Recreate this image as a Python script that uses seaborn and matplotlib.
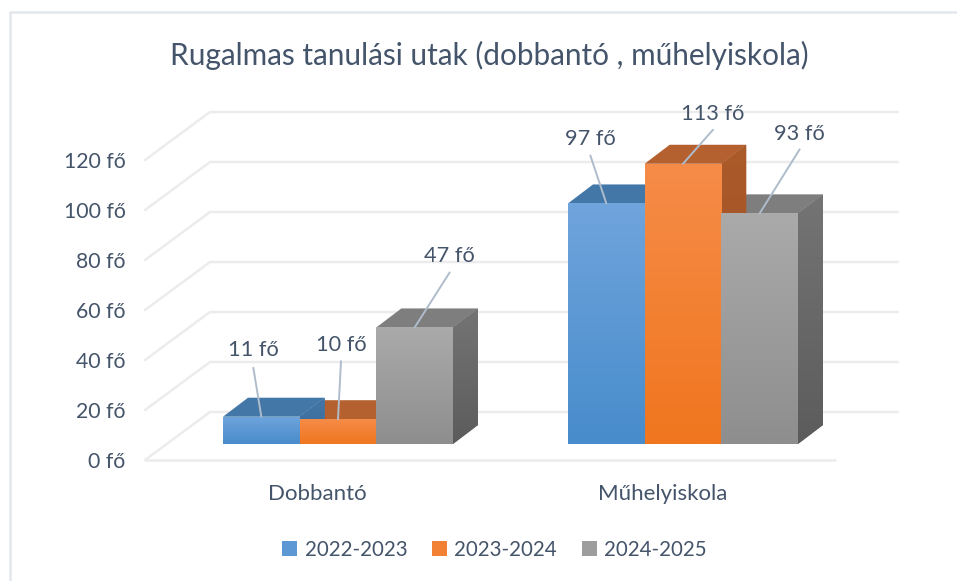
import numpy as np
import pandas as pd
import seaborn as sns
import matplotlib.pyplot as plt
from matplotlib.colors import to_rgb
from matplotlib.lines import Line2D
from matplotlib.patches import Polygon, Rectangle

# data
categories = ["Dobbantó", "Műhelyiskola"]
years = ["2022-2023", "2023-2024", "2024-2025"]
val_2022 = [11, 97]
val_2023 = [10, 113]
val_2024 = [47, 93]
y_ticks = [0, 20, 40, 60, 80, 100, 120]

df = pd.DataFrame({
    "kategoria": categories * 3,
    "tanev": [y for y in years for _ in categories],
    "fo": val_2022 + val_2023 + val_2024,
})

W, H = 957, 581
TEXT = "#44546A"
GRID = "#ececec"
LEADER = "#aebccb"
# front top/bottom, top face, side top/bottom
front_cols = [("#6fa4dc", "#488ccc"), ("#f68c48", "#f0761f"), ("#aaaaaa", "#8e8e8e")]
top_cols = ["#4377a8", "#b5602f", "#7e7e7e"]
side_cols = [("#4377a8", "#3a6894"), ("#ab5a2a", "#9c5024"), ("#747474", "#5c5c5c")]
legend_cols = ["#5b98d4", "#f38135", "#9d9d9d"]
# label offset from the bar top, pixels (x, y of the label centre)
label_off = [[(-8, 67), (-16, 64)], [(3, 74), (30, 50)], [(35, 71), (40, 79)]]
line_off = [[(-8, 49), (-16, 48)], [(3, 58), (30, 34)], [(35, 55), (40, 64)]]

sns.set_theme(style="white")
plt.rcParams["font.family"] = ["Lato", "DejaVu Sans"]

fig = plt.figure(figsize=(W / 100, H / 100), dpi=100)
# only the top and left edges of the chart frame are visible
fig.add_artist(Line2D([9.5 / W, 9.5 / W, 1], [0, 1 - 11.5 / H, 1 - 11.5 / H], transform=fig.transFigure,
                      color="#e3e7ec", lw=1.8))


def px_axes(left, right, top, bottom):
    return fig.add_axes([left / W, 1 - bottom / H, (right - left) / W, (bottom - top) / H])


# back grid: 1 unit = 2.5 px, x in pixels from the front left corner
grid_ax = px_axes(145, 835, 160, 460)
grid_ax.set_xlim(0, 690)
grid_ax.set_ylim(0, 120)
sns.despine(ax=grid_ax, left=True, bottom=True)
grid_ax.patch.set_alpha(0)
back_x, back_y = 65, 48 / 2.5
for v in y_ticks:
    grid_ax.plot([0, back_x, 753], [v, v + back_y, v + back_y], color=GRID, lw=1.8,
                 clip_on=False, solid_capstyle="round")
grid_ax.plot([0, 690], [0, 0], color=GRID, lw=1.8, clip_on=False)
grid_ax.set_yticks(y_ticks)
grid_ax.set_yticklabels([f"{v} fő" for v in y_ticks], color=TEXT, fontsize=15.3)
grid_ax.set_xticks([172.5, 517.5])
grid_ax.set_xticklabels(categories, color=TEXT, fontsize=16)
grid_ax.tick_params(axis="y", length=0, pad=14)
grid_ax.tick_params(axis="x", length=0, pad=17.5)

# bars sit in front of the floor: value 0 at pixel 444, 1 unit = 2.48 px
ax = px_axes(165.5, 855.5, 121.6, 444)
sns.barplot(data=df, x="kategoria", y="fo", hue="tanev", hue_order=years, order=categories,
            palette=legend_cols, width=230 / 345, gap=0, saturation=1, legend=False, ax=ax)
ax.set_xlim(-0.5, 1.5)
ax.set_ylim(0, 130)
ax.axis("off")

depth_x, depth_y = 25 / 345, 19 / 2.48


def gradient(patch, c_top, c_bottom, z):
    ax.add_patch(patch)
    patch.set_zorder(z - 0.1)
    xy = patch.get_xy() if isinstance(patch, Polygon) else None
    if xy is None:
        x0, y0, x1, y1 = patch.get_x(), patch.get_y(), patch.get_x() + patch.get_width(), patch.get_height()
    else:
        x0, y0, x1, y1 = xy[:, 0].min(), xy[:, 1].min(), xy[:, 0].max(), xy[:, 1].max()
    t = np.linspace(0, 1, 64)[:, None, None]
    img = (1 - t) * np.array(to_rgb(c_top)) + t * np.array(to_rgb(c_bottom))
    im = ax.imshow(img, extent=(x0, x1, y0, y1), aspect="auto", zorder=z, interpolation="bilinear")
    im.set_clip_path(patch)


# tops and sides first, right bar to left bar, then all the fronts
z = 3
for i in [2, 1, 0]:
    for bar in ax.containers[i]:
        x0, w, h = bar.get_x(), bar.get_width(), bar.get_height()
        ax.add_patch(Polygon([(x0, h), (x0 + w, h), (x0 + w + depth_x, h + depth_y), (x0 + depth_x, h + depth_y)],
                             fc=top_cols[i], ec="none", zorder=z))
        side = Polygon([(x0 + w, 0), (x0 + w + depth_x, depth_y), (x0 + w + depth_x, h + depth_y), (x0 + w, h)],
                       fc=side_cols[i][0], ec="none")
        gradient(side, side_cols[i][0], side_cols[i][1], z + 0.5)
        z += 1

for i in range(3):
    for bar in ax.containers[i]:
        front = Rectangle((bar.get_x(), 0), bar.get_width(), bar.get_height(), fc=front_cols[i][0], ec="none")
        gradient(front, front_cols[i][0], front_cols[i][1], 20 + i)
        bar.set_visible(False)

ax.set_xlim(-0.5, 1.5)
ax.set_ylim(0, 130)

# data labels with leader lines
for i in range(3):
    for j, bar in enumerate(ax.containers[i]):
        cx = bar.get_x() + bar.get_width() / 2
        h = bar.get_height()
        ax.annotate("", xy=(cx, h), xycoords="data", xytext=line_off[i][j], textcoords="offset pixels",
                    arrowprops=dict(arrowstyle="-", color=LEADER, lw=1.4, shrinkA=0, shrinkB=0), zorder=30)
        ax.annotate(f"{int(h)} fő", xy=(cx, h), xytext=label_off[i][j], textcoords="offset pixels",
                    ha="center", va="center", color=TEXT, fontsize=15.7, zorder=31, annotation_clip=False)

fig.text(489 / W, 1 - 55 / H, "Rugalmas tanulási utak (dobbantó , műhelyiskola)", ha="center", va="center",
         color=TEXT, fontsize=21.4)

handles = [Rectangle((0, 0), 1, 1, fc=c, ec="none") for c in legend_cols]
fig.legend(handles, years, loc="center", bbox_to_anchor=(494.5 / W, 1 - 550 / H), ncol=3, frameon=False,
           fontsize=14.8, labelcolor=TEXT, handlelength=0.75, handleheight=0.75, handletextpad=0.35,
           columnspacing=1.2)

fig.savefig("out.png", dpi=100)
